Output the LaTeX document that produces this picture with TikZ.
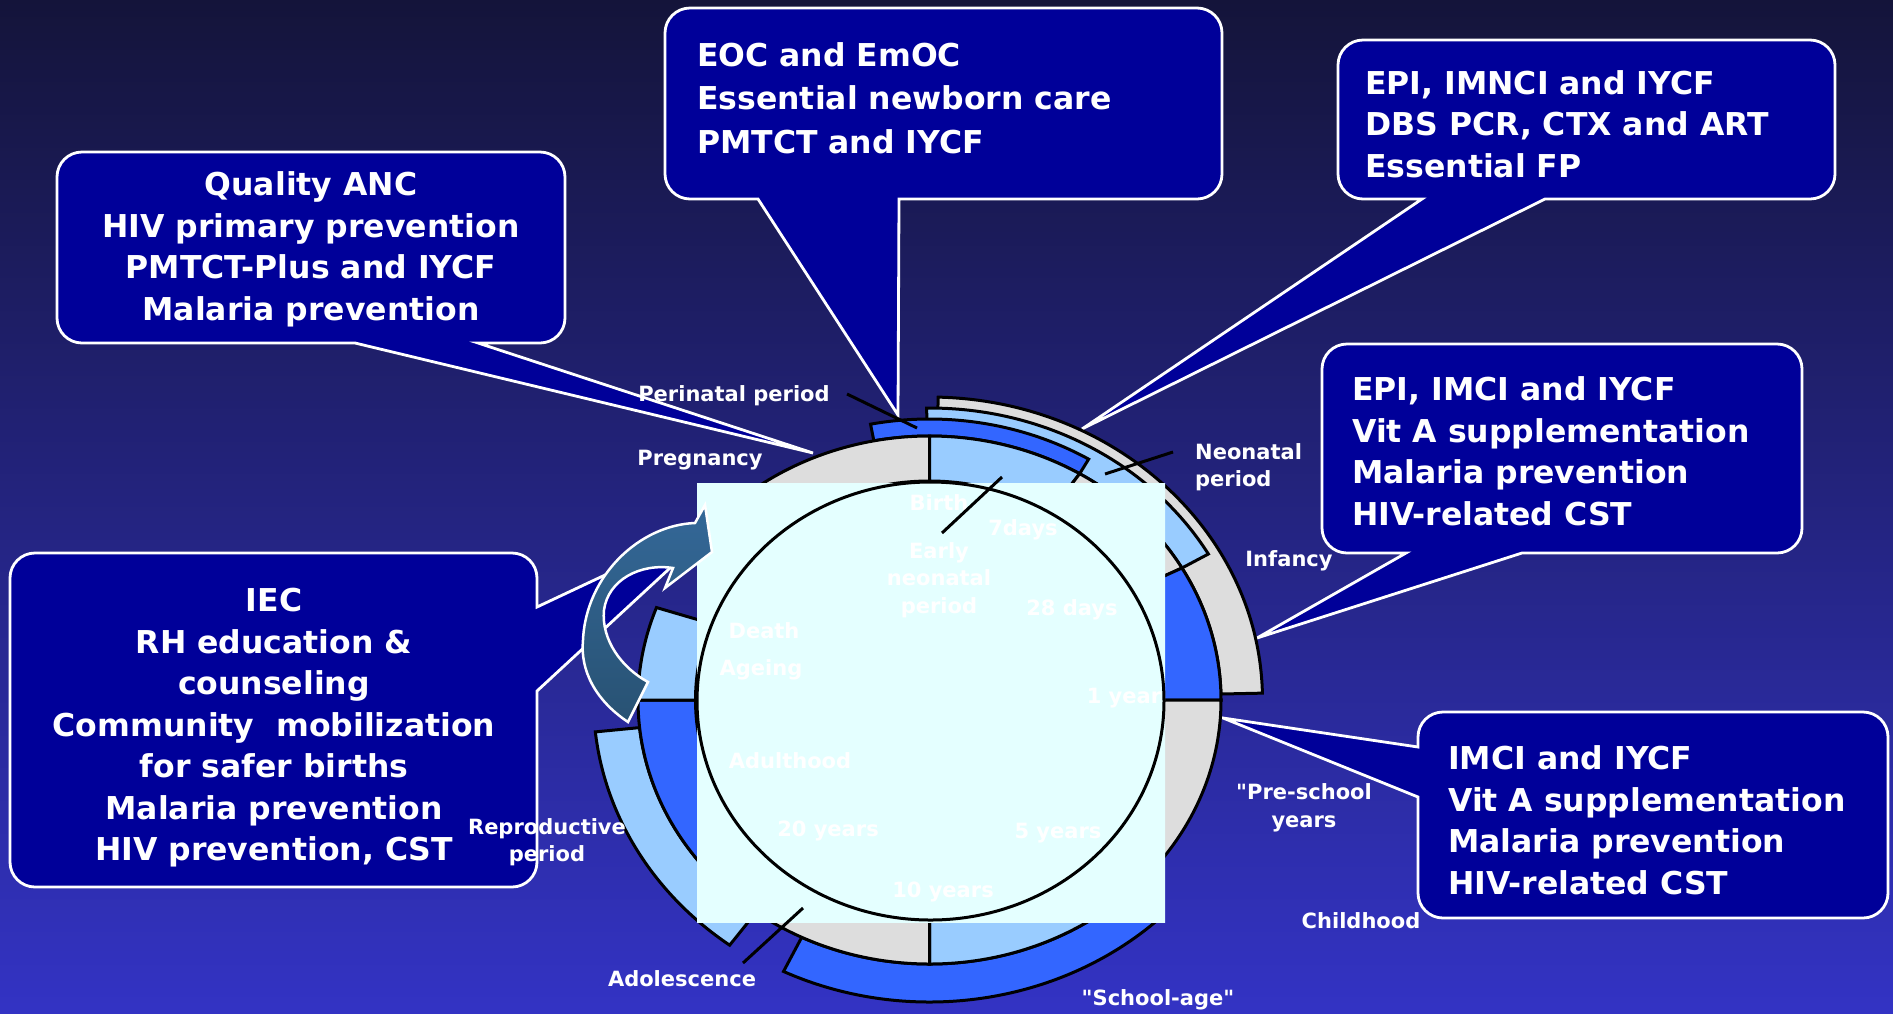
\documentclass[tikz,border=0pt]{standalone}
\usepackage{fontspec}
\setmainfont{DejaVu Sans}[Ligatures=TeXOff]
\definecolor{bgtop}{RGB}{20,20,58}
\definecolor{bgmid}{RGB}{38,38,140}
\definecolor{bgbot}{RGB}{51,51,196}
\definecolor{calloutnavy}{RGB}{0,0,153}
\definecolor{ringgray}{RGB}{221,221,221}
\definecolor{ringlight}{RGB}{153,204,255}
\definecolor{ringblue}{RGB}{51,102,255}
\definecolor{boxcyan}{RGB}{228,255,255}
\definecolor{boxmid}{RGB}{170,202,250}
\definecolor{arrowtop}{RGB}{52,104,152}
\definecolor{arrowbot}{RGB}{40,82,115}

\begin{document}
\begin{tikzpicture}[x=1pt, y=-1pt,
  ringline/.style={draw=black, line width=3pt},
  callout/.style={fill=calloutnavy, draw=white, line width=2.8pt, rounded corners=25pt},
  bigtext/.style={text=white, inner sep=0pt, font=\bfseries\fontsize{31.5}{41.5}\selectfont},
  smalltext/.style={text=white, inner sep=0pt, font=\bfseries\fontsize{21}{27.5}\selectfont},
  tick/.style={draw=black, line width=3pt}]
\useasboundingbox (0,0) rectangle (1893,1013);
% Background
\shade[top color=bgtop, middle color=bgmid, bottom color=bgbot] (0,0) rectangle (1893,1013);

% Callouts with their pointers
\path[callout] (311,152) -- (565,152) -- (565,343) [sharp corners] -- (478,343) -- (813,453) -- (355,343) [rounded corners=25pt] -- (57,343) -- (57,152) -- cycle;
\path[callout] (943,8) -- (1222,8) -- (1222,199) [sharp corners] -- (899,199) -- (898,415) -- (758,199) [rounded corners=25pt] -- (665,199) -- (665,8) -- cycle;
\path[callout] (1586,40) -- (1835,40) -- (1835,199) [sharp corners] -- (1545,199) -- (1082,429) -- (1422,199) [rounded corners=25pt] -- (1338,199) -- (1338,40) -- cycle;
\path[callout] (1562,344) -- (1802,344) -- (1802,553) [sharp corners] -- (1522,553) -- (1257,638) -- (1406,553) [rounded corners=25pt] -- (1322,553) -- (1322,344) -- cycle;
\path[callout] (1652,712) -- (1888,712) -- (1888,918) -- (1418,918) [sharp corners] -- (1418,797) -- (1223,718) -- (1418,747) [rounded corners=25pt] -- (1418,712) -- cycle;
\path[callout] (273,553) -- (537,553) [sharp corners] -- (537,607) -- (722,520) -- (537,691) [rounded corners=25pt] -- (537,887) -- (10,887) -- (10,553) -- cycle;

\node[bigtext, align=center] (anc) at (311,249.5) {Quality ANC\\HIV primary prevention\\PMTCT-Plus and IYCF\\Malaria prevention};
\node[bigtext, align=left, anchor=west, font=\bfseries\fontsize{31.5}{43.5}\selectfont] (eoc) at (697,98) {EOC and EmOC\\Essential newborn care\\PMTCT and IYCF};
\node[bigtext, align=left, anchor=west] (epi) at (1365,124) {EPI, IMNCI and IYCF\\DBS PCR, CTX and ART\\Essential FP};
\node[bigtext, align=left, anchor=west] (epiimci) at (1352,451) {EPI, IMCI and IYCF\\Vit A supplementation\\Malaria prevention\\HIV-related CST};
\node[bigtext, align=left, anchor=west] (imci) at (1448,820) {IMCI and IYCF\\Vit A supplementation\\Malaria prevention\\HIV-related CST};
\node[bigtext, align=center] (iec) at (274,728) {IEC\\RH education \&\\counseling\\Community\ \ mobilization\\for safer births\\Malaria prevention\\HIV prevention, CST};

% Life cycle ring
\begin{scope}[shift={(929.5,700)}]
% outer bands, back to front
\foreach \a/\b/\rx/\ry/\c in {-88.5/-1.3/333/303/ringgray, -90.5/-30/322/292/ringlight, -101/-59/309/281/ringblue, 47/116/333/302/ringblue, 126.5/174/336/305/ringlight} {
  \filldraw[fill=\c, ringline] (\a:{\rx} and {\ry}) arc[start angle=\a, end angle=\b, x radius=\rx, y radius=\ry] -- (\b:291.5 and 264) arc[start angle=\b, end angle=\a, x radius=291.5, y radius=264] -- cycle;
}
% main ring
\foreach \a/\b/\c in {215/270/ringgray, 270/301/ringlight, 301/330/ringgray, 330/360/ringblue, 0/50/ringgray, 50/90/ringlight, 90/135/ringgray, 135/180/ringblue, 180/200.5/ringlight} {
  \filldraw[fill=\c, ringline] (\a:291.5 and 264) arc[start angle=\a, end angle=\b, x radius=291.5, y radius=264] -- (\b:234 and 219) arc[start angle=\b, end angle=\a, x radius=234, y radius=219] -- cycle;
}
\end{scope}

% Inner disc
\shade[top color=boxcyan, middle color=boxmid, bottom color=boxcyan] (697,483) rectangle (1165,922);
\draw[ringline] (930.5,701) ellipse[x radius=233.5, y radius=219];

\node[smalltext] (birth) at (939,503) {Birth};
\node[smalltext] (sevendays) at (1023,530) {7days};
\node[smalltext, align=center] (earlyneo) at (939,580) {Early\\neonatal\\period};
\node[smalltext] (days28) at (1072,610) {28 days};
\node[smalltext] (death) at (764,631) {Death};
\node[smalltext] (ageing) at (761,670) {Ageing};
\node[smalltext] (oneyear) at (1124,698) {1 year};
\node[smalltext] (adulthood) at (790,761) {Adulthood};
\node[smalltext] (years20) at (828,831) {20 years};
\node[smalltext] (years5) at (1058,833) {5 years};
\node[smalltext] (years10) at (943,892) {10 years};

% Pointer lines
\coordinate (perinatal-a) at (847,394);
\coordinate (perinatal-b) at (917,428);
\coordinate (neonatal-a) at (1173,452);
\coordinate (neonatal-b) at (1105,474);
\coordinate (earlyneo-a) at (1002,477);
\coordinate (earlyneo-b) at (942,533);
\coordinate (adolescence-a) at (743,963);
\coordinate (adolescence-b) at (803,908);
\draw[tick] (perinatal-a) -- (perinatal-b);
\draw[tick] (neonatal-a) -- (neonatal-b);
\draw[tick] (earlyneo-a) -- (earlyneo-b);
\draw[tick] (adolescence-a) -- (adolescence-b);

% Cycle arrow
\shade[top color=arrowtop, bottom color=arrowbot, draw=white, line width=2.5pt] (628,722) .. controls (595,700) and (580,670) .. (583,640) .. controls (586,575) and (640,525) .. (695,523) -- (705,505) -- (712,552) -- (665,588) -- (673,568) .. controls (640,563) and (608,580) .. (604,610) .. controls (601,640) and (622,668) .. (648,682) -- cycle;

% Stage labels
\node[smalltext] (perinatal) at (734,396) {Perinatal period};
\node[smalltext] (pregnancy) at (700,460) {Pregnancy};
\node[smalltext, align=left, anchor=west] (neonatal) at (1195,467) {Neonatal\\period};
\node[smalltext] (infancy) at (1289,561) {Infancy};
\node[smalltext, align=center] (preschool) at (1304,808) {"Pre-school\\years};
\node[smalltext] (childhood) at (1361,921) {Childhood};
\node[smalltext] (schoolage) at (1158,1000) {"School-age"};
\node[smalltext] (adolescence) at (682,979) {Adolescence};
\node[smalltext, align=center] (reproductive) at (547,842) {Reproductive\\period};
\end{tikzpicture}
\end{document}
